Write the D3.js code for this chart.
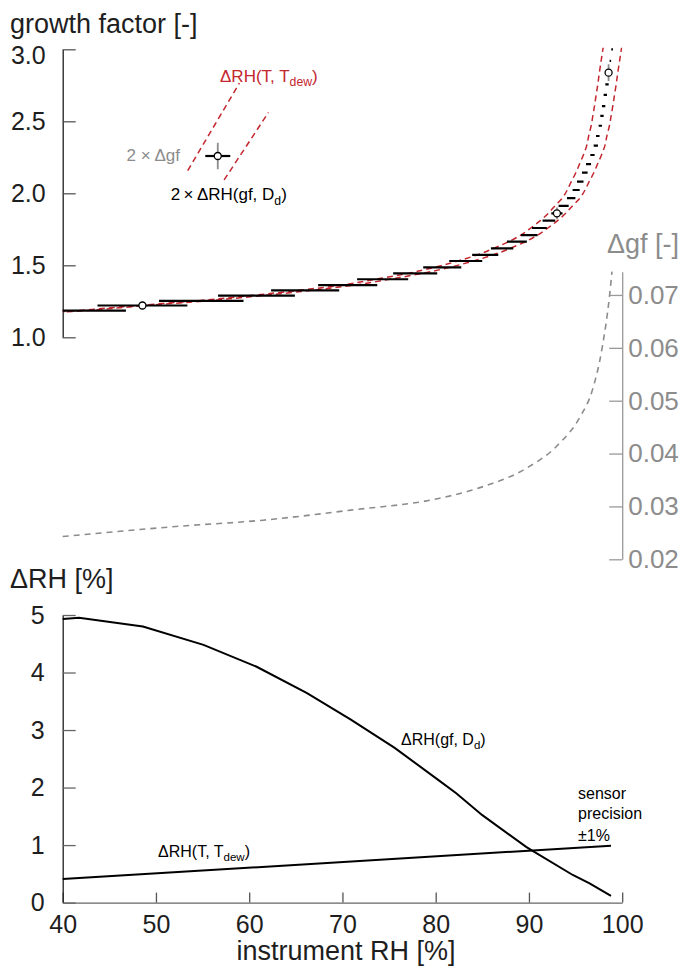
<!DOCTYPE html>
<html>
<head>
<meta charset="utf-8">
<script src="https://cdn.jsdelivr.net/npm/d3@7"></script>
<style>
body { margin: 0; background: #fff; }
svg { display: block; font-family: "Liberation Sans", Arial, Helvetica, sans-serif; }
</style>
</head>
<body>
<div id="chart"></div>
<script>
// growth factor bins: centre RH, gf and half width ±ΔRH(gf, Dd)
const gfRH = [41.83, 48.55, 54.86, 60.78, 66.0, 70.56, 74.31, 77.8, 80.7, 83.22, 85.31, 87.12, 88.71, 90.03, 91.12, 92.14, 93.0,
  93.72, 94.53, 95.06, 95.5, 95.99, 96.39, 96.81, 97.17, 97.38, 97.65, 97.83, 98.01, 98.19, 98.37, 98.54, 98.73, 98.92];
const gfVal = [1.185, 1.221, 1.253, 1.290, 1.326, 1.362, 1.403, 1.444, 1.486, 1.530, 1.572, 1.618, 1.664, 1.710, 1.759, 1.810, 1.861,
  1.912, 1.967, 2.023, 2.081, 2.143, 2.203, 2.266, 2.331, 2.398, 2.469, 2.537, 2.606, 2.683, 2.757, 2.838, 2.919, 3.0];
const gfErrRH = [4.95, 4.82, 4.53, 4.12, 3.65, 3.17, 2.74, 2.36, 2.04, 1.77, 1.4, 1.2, 1.07, 0.89, 0.8, 0.68, 0.6,
  0.54, 0.45, 0.38, 0.35, 0.3, 0.27, 0.23, 0.23, 0.19, 0.18, 0.18, 0.18, 0.18, 0.18, 0.15, 0.08, 0.09];
// bins shown with a marker and ±Δgf bar
const markIdx = [1, 16, 31];
const markErrGf = [0.026, 0.041, 0.058];
// ends of the gf curve (band continues to the axis and the top)
const bandStart = [40, 1.177];
const bandEnd = [99.1, 3.06];

// Δgf vs instrument RH (right axis)
const dgfRH = [40, 52.1, 61.5, 70.9, 80.3, 85.0, 89.7, 93.2, 95.5, 96.8, 97.85, 98.65, 98.9];
const dgfVal = [0.0243, 0.0262, 0.0274, 0.0293, 0.0315, 0.0337, 0.0372, 0.0418, 0.047, 0.052, 0.060, 0.070, 0.0744];

// lower panel: ΔRH(gf, Dd) and ΔRH(T, Tdew)
const dRhGfRH = [40, 41.75, 48.6, 55.1, 60.8, 66.2, 70.9, 75.6, 80.3, 82.2, 85.0, 89.7, 90.35, 94.7, 96.5, 98.8];
const dRhGfVal = [4.93, 4.95, 4.80, 4.48, 4.10, 3.64, 3.18, 2.69, 2.13, 1.90, 1.52, 0.97, 0.905, 0.48, 0.335, 0.116];
const dRhTRH = [40, 98.8];
const dRhTVal = [0.41, 0.99];

// legend key (data units of the upper panel)
const keyBandA = [[53.41, 2.158], [58.95, 2.765]];
const keyBandB = [[57.31, 2.093], [62.06, 2.561]];
const keyPoint = [56.63, 2.259];
const keyErr = [1.34, 0.092];

const rhTicks = [40, 50, 60, 70, 80, 90, 100];
const gfTicks = [1.0, 1.5, 2.0, 2.5, 3.0];
const dgfTicks = [0.02, 0.03, 0.04, 0.05, 0.06, 0.07];
const dRhTicks = [0, 1, 2, 3, 4, 5];

const RED = '#c4262e';
const GREY = '#8c8c8c';
const INK = '#1e1e1e';

const svg = d3.select('#chart').append('svg')
  .attr('width', 684)
  .attr('height', 966);

const x = d3.scaleLinear().domain([40, 100]).range([62.7, 622.2]);
const yGf = d3.scaleLinear().domain([1, 3]).range([337.3, 49.3]);
const yDgf = d3.scaleLinear().domain([0.02, 0.0744]).range([559.3, 271.7]);
const yDrh = d3.scaleLinear().domain([0, 5]).range([902.6, 615]);
const dRhT = d3.scaleLinear().domain(dRhTRH).range(dRhTVal);

const styleAxis = (g, lineColor, tickColor, textColor, size) => {
  g.select('.domain').attr('stroke', lineColor).attr('stroke-width', 1.3);
  g.selectAll('.tick line').attr('stroke', tickColor).attr('stroke-width', 1.3);
  g.selectAll('.tick text').attr('fill', textColor).attr('font-size', size).attr('font-family', null);
};

const subText = (x0, y0, main, sub, tail, size, color, anchor = 'start') => {
  const t = svg.append('text')
    .attr('x', x0).attr('y', y0)
    .attr('font-size', size).attr('fill', color)
    .attr('text-anchor', anchor);
  t.append('tspan').text(main);
  t.append('tspan').attr('font-size', size * 0.72).attr('dy', size * 0.28).text(sub);
  t.append('tspan').attr('dy', -size * 0.28).text(tail);
};

// ---------- upper panel ----------
svg.append('clipPath').attr('id', 'clipTop')
  .append('rect')
  .attr('x', x(40)).attr('y', yGf(3) - 1.5)
  .attr('width', x(100) - x(40)).attr('height', yGf(1) - yGf(3) + 1.5);

const gfAxis = svg.append('g')
  .attr('transform', `translate(${x(40)},0)`)
  .call(d3.axisLeft(yGf).tickValues(gfTicks).tickFormat(d3.format('.1f'))
    .tickSizeInner(-13).tickSizeOuter(0).tickPadding(17));
styleAxis(gfAxis, INK, '#555', INK, 25);
gfAxis.selectAll('.tick text').filter(d => d === 3).attr('dy', '0.56em');

const dgfAxis = svg.append('g')
  .attr('transform', `translate(${x(100)},0)`)
  .call(d3.axisRight(yDgf).tickValues(dgfTicks).tickFormat(d3.format('.2f'))
    .tickSizeInner(-13).tickSizeOuter(0).tickPadding(6));
styleAxis(dgfAxis, '#999', '#999', GREY, 26);

svg.append('text').attr('x', 10).attr('y', 33)
  .attr('font-size', 27).attr('fill', INK).text('growth factor [-]');
svg.append('text').attr('x', 607).attr('y', 253)
  .attr('font-size', 27).attr('fill', GREY).text('Δgf [-]');

const upper = svg.append('g').attr('clip-path', 'url(#clipTop)');

const curve = [bandStart, ...gfRH.map((r, i) => [r, gfVal[i]]), bandEnd];
const bandLine = shift => d3.line()
  .x(d => x(d[0] + shift * dRhT(d[0])))
  .y(d => yGf(d[1]))
  .curve(d3.curveMonotoneY);

[-1, 1].forEach(s => upper.append('path')
  .attr('d', bandLine(s)(curve))
  .attr('fill', 'none')
  .attr('stroke', RED)
  .attr('stroke-width', 1.5)
  .attr('stroke-dasharray', '6,4'));

svg.append('path')
  .attr('d', d3.line().x(r => x(r)).y((r, i) => yDgf(dgfVal[i])).curve(d3.curveMonotoneX)(dgfRH))
  .attr('fill', 'none')
  .attr('stroke', GREY)
  .attr('stroke-width', 1.6)
  .attr('stroke-dasharray', '6,5');

upper.selectAll('line.bin')
  .data(gfRH)
  .enter().append('line')
  .attr('class', 'bin')
  .attr('x1', (r, i) => x(r - gfErrRH[i]))
  .attr('x2', (r, i) => x(r + gfErrRH[i]))
  .attr('y1', (r, i) => yGf(gfVal[i]))
  .attr('y2', (r, i) => yGf(gfVal[i]))
  .attr('stroke', '#000')
  .attr('stroke-width', 2.2);

upper.selectAll('line.gfErr')
  .data(markIdx)
  .enter().append('line')
  .attr('class', 'gfErr')
  .attr('x1', i => x(gfRH[i]))
  .attr('x2', i => x(gfRH[i]))
  .attr('y1', (i, k) => yGf(gfVal[i] - markErrGf[k]))
  .attr('y2', (i, k) => yGf(gfVal[i] + markErrGf[k]))
  .attr('stroke', GREY)
  .attr('stroke-width', 1.8);

upper.selectAll('circle.mark')
  .data(markIdx)
  .enter().append('circle')
  .attr('class', 'mark')
  .attr('cx', i => x(gfRH[i]))
  .attr('cy', i => yGf(gfVal[i]))
  .attr('r', 3.5)
  .attr('fill', '#fff')
  .attr('stroke', '#000')
  .attr('stroke-width', 1.3);

// key
const keyLine = d3.line().x(d => x(d[0])).y(d => yGf(d[1]));
[keyBandA, keyBandB].forEach(seg => svg.append('path')
  .attr('d', keyLine(seg))
  .attr('fill', 'none')
  .attr('stroke', RED)
  .attr('stroke-width', 1.5)
  .attr('stroke-dasharray', '6,4'));
svg.append('line')
  .attr('x1', x(keyPoint[0])).attr('x2', x(keyPoint[0]))
  .attr('y1', yGf(keyPoint[1] - keyErr[1])).attr('y2', yGf(keyPoint[1] + keyErr[1]))
  .attr('stroke', GREY).attr('stroke-width', 1.8);
svg.append('line')
  .attr('x1', x(keyPoint[0] - keyErr[0])).attr('x2', x(keyPoint[0] + keyErr[0]))
  .attr('y1', yGf(keyPoint[1])).attr('y2', yGf(keyPoint[1]))
  .attr('stroke', '#000').attr('stroke-width', 2.2);
svg.append('circle')
  .attr('cx', x(keyPoint[0])).attr('cy', yGf(keyPoint[1])).attr('r', 3.5)
  .attr('fill', '#fff').attr('stroke', '#000').attr('stroke-width', 1.3);

subText(220, 81.7, 'ΔRH(T, T', 'dew', ')', 17, RED);
svg.append('text').attr('x', 180).attr('y', 161).attr('text-anchor', 'end')
  .attr('font-size', 17).attr('fill', GREY).text('2 × Δgf');
subText(170.7, 200, '2\u2009×\u2009ΔRH(gf, D', 'd', ')', 17, '#000');

// ---------- lower panel ----------
const rhAxis = svg.append('g')
  .attr('transform', `translate(0,${yDrh(0)})`)
  .call(d3.axisBottom(x).tickValues(rhTicks).tickSizeInner(-10).tickSizeOuter(0).tickPadding(13));
styleAxis(rhAxis, '#666', '#555', INK, 25);

const drhAxis = svg.append('g')
  .attr('transform', `translate(${x(40)},0)`)
  .call(d3.axisLeft(yDrh).tickValues(dRhTicks).tickFormat(d3.format('d'))
    .tickSizeInner(-13).tickSizeOuter(0).tickPadding(18));
styleAxis(drhAxis, INK, '#666', INK, 25);

svg.append('text').attr('x', 10).attr('y', 588)
  .attr('font-size', 27).attr('fill', INK).text('ΔRH [%]');
svg.append('text').attr('x', 346).attr('y', 960).attr('text-anchor', 'middle')
  .attr('font-size', 27).attr('fill', INK).text('instrument RH [%]');

const lower = (rh, vals) => d3.line().x(r => x(r)).y((r, i) => yDrh(vals[i]))(rh);
svg.append('path').attr('d', lower(dRhGfRH, dRhGfVal))
  .attr('fill', 'none').attr('stroke', '#000').attr('stroke-width', 2);
svg.append('path').attr('d', lower(dRhTRH, dRhTVal))
  .attr('fill', 'none').attr('stroke', '#000').attr('stroke-width', 2);

subText(401, 745, 'ΔRH(gf, D', 'd', ')', 16, '#000');
subText(158, 857, 'ΔRH(T, T', 'dew', ')', 16, '#000');
[['sensor', 799], ['precision', 819], ['±1%', 841]].forEach(([t, yy]) =>
  svg.append('text').attr('x', 578).attr('y', yy)
    .attr('font-size', 16).attr('fill', '#000').text(t));
</script>
</body>
</html>
